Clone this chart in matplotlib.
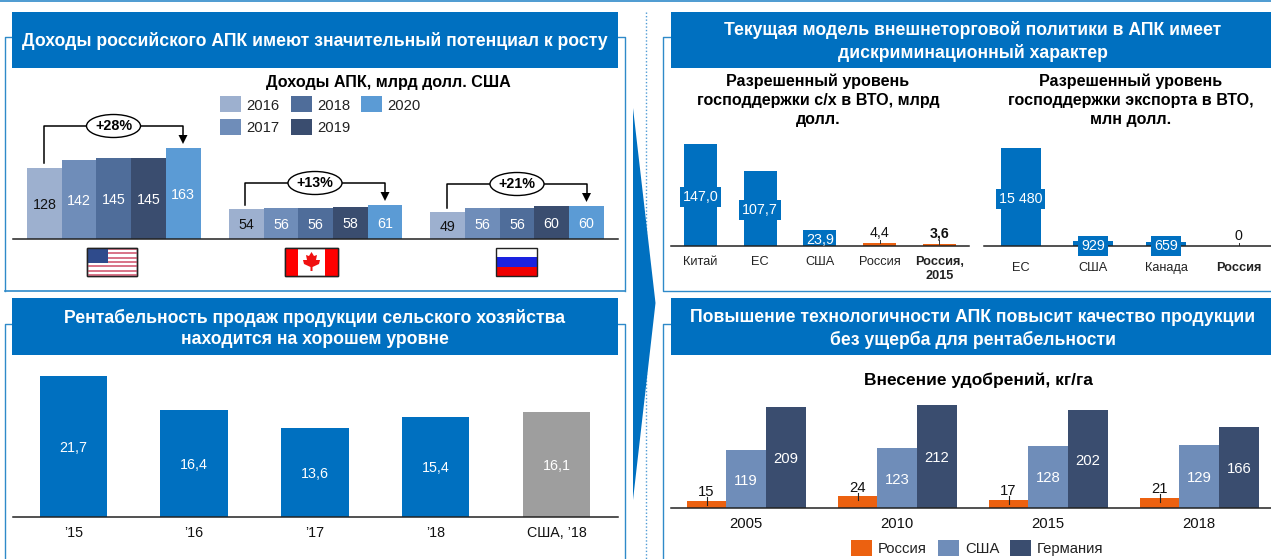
import numpy as np
import matplotlib
matplotlib.use("Agg")
import matplotlib.pyplot as plt
from matplotlib.patches import Rectangle, Polygon, Ellipse

plt.rcParams['font.family'] = ['Liberation Sans', 'DejaVu Sans']

W, H = 1271, 559

# данные: доходы АПК
income_years = ['2016', '2017', '2018', '2019', '2020']
income_usa = [128, 142, 145, 145, 163]
income_canada = [54, 56, 56, 58, 61]
income_russia = [49, 56, 56, 60, 60]
income_growth = ['+28%', '+13%', '+21%']

# данные: рентабельность
margin_labels = ['’15', '’16', '’17', '’18', 'США, ’18']
margin_values = [21.7, 16.4, 13.6, 15.4, 16.1]

# данные: господдержка с/х
farm_labels = ['Китай', 'ЕС', 'США', 'Россия', 'Россия,\n2015']
farm_values = [147.0, 107.7, 23.9, 4.4, 3.6]

# данные: господдержка экспорта
export_labels = ['ЕС', 'США', 'Канада', 'Россия']
export_values = [15480, 929, 659, 0]
export_text = ['15 480', '929', '659', '0']

# данные: удобрения
fert_years = ['2005', '2010', '2015', '2018']
fert_russia = [15, 24, 17, 21]
fert_usa = [119, 123, 128, 129]
fert_germany = [209, 212, 202, 166]

BLUE = '#0070C0'
FRAME = '#2F8AC9'
GREY = '#9E9E9E'
ORANGE = '#EC6110'
Y_COLORS = ['#9DB0CF', '#6F8DB9', '#4F6D9A', '#3A4D6F', '#5B9BD5']
VC = 'center_baseline'


def chart_axes(fig, x0, x1, base, top, xlim, ylim):
    """оси, заданные в пикселях картинки"""
    ax = fig.add_axes([x0 / W, 1 - base / H, (x1 - x0) / W, (base - top) / H])
    ax.set_xlim(*xlim)
    ax.set_ylim(*ylim)
    ax.patch.set_alpha(0)
    for s in ['top', 'left', 'right']:
        ax.spines[s].set_visible(False)
    ax.spines['bottom'].set_color('#222222')
    ax.spines['bottom'].set_linewidth(1.1)
    ax.set_yticks([])
    ax.set_xticks([])
    return ax


def bar_xlim(x0, x1, first_left, unit):
    return (x0 - first_left) / unit, (x1 - first_left) / unit


fig = plt.figure(figsize=(W / 100, H / 100), dpi=100, facecolor='white')

# подложка в пикселях: заголовки, рамки, флаги
bg = fig.add_axes([0, 0, 1, 1], zorder=0)
bg.set_xlim(0, W)
bg.set_ylim(H, 0)
bg.axis('off')

# оформление сверху
top = fig.add_axes([0, 0, 1, 1], zorder=5)
top.set_xlim(0, W)
top.set_ylim(H, 0)
top.axis('off')
top.patch.set_alpha(0)

# рамки
bg.plot([0, W], [0.5, 0.5], color=FRAME, lw=1.2)
bg.plot([5, 5, 625, 625], [290.5, 37, 37, 290.5], color=FRAME, lw=1)
bg.plot([5, 625], [290.5, 290.5], color=FRAME, lw=1.2)
bg.plot([5, 5, 625, 625], [559, 324, 324, 559], color=FRAME, lw=1)
bg.plot([W, 662.5, 662.5, W], [37, 37, 290.5, 290.5], color=FRAME, lw=1)
bg.plot([662.5, 662.5, W], [559, 324, 324], color=FRAME, lw=1)
bg.plot([646, 646], [12, 559], color='#4F9BD5', lw=1, ls=(0, (1, 1.5)))
bg.add_patch(Polygon([(633, 108), (655.5, 303), (633, 500)], closed=True, color=BLUE, lw=0, zorder=3))

# заголовки панелей
headers = [
    (12, 618, 12, 68, 0.5, 'Доходы российского АПК имеют значительный потенциал к росту'),
    (671, W, 12, 68, 1.5, 'Текущая модель внешнеторговой политики в АПК имеет\nдискриминационный характер'),
    (12, 618, 298, 355, 2, 'Рентабельность продаж продукции сельского хозяйства\nнаходится на хорошем уровне'),
    (671, W, 298, 355, 2.5, 'Повышение технологичности АПК повысит качество продукции\nбез ущерба для рентабельности'),
]
for x0, x1, y0, y1, dy, txt in headers:
    bg.add_patch(Rectangle((x0, y0), x1 - x0, y1 - y0, color=BLUE, lw=0, zorder=3))
    bg.text((x0 + x1) / 2 + (2 if x0 > 600 else 0), (y0 + y1) / 2 + dy, txt, color='white', fontsize=12.7, fontweight='bold',
            ha='center', va='center', linespacing=1.3, zorder=4)

# --- доходы АПК ---
unit = 34.7
ax = chart_axes(fig, 13, 618, 239, 100, bar_xlim(13, 618, 27, unit), (0, 139 / 0.557))
starts = [0, 5.82, 11.62]
for st, vals in zip(starts, [income_usa, income_canada, income_russia]):
    xs = st + 0.5 + np.arange(5)
    ax.bar(xs, vals, width=1.0, color=Y_COLORS, linewidth=0)
    for i, (x, v) in enumerate(zip(xs, vals)):
        ax.text(x, v / 2, str(v), ha='center', va=VC, fontsize=10.3,
                color='#111111' if i == 0 else 'white')

top.text(388, 82, 'Доходы АПК, млрд долл. США', fontsize=11.6, fontweight='bold', ha='center', va='center')
legend_pos = [(220, 96), (220, 119), (291, 96), (291, 119), (361, 96)]
for (lx, ly), name, c in zip(legend_pos, income_years, Y_COLORS):
    top.add_patch(Rectangle((lx, ly), 20.5, 16, color=c, lw=0))
    top.text(lx + 26, ly + 9.5, name, fontsize=10.7, va='center', color='#222222')

brackets = [(44, 163, 126, 183, 143, 113.5), (245, 205, 183, 385, 200, 315), (447, 208, 184, 586.5, 201, 517)]
for (xl, yl, yt, xr, ya, xo), g in zip(brackets, income_growth):
    top.plot([xl, xl, xr, xr], [yl, yt, yt, ya - 6], color='black', lw=1.1)
    top.add_patch(Polygon([(xr - 4.5, ya - 8), (xr + 4.5, ya - 8), (xr, ya + 1)], closed=True, color='black', lw=0))
    top.add_patch(Ellipse((xo, yt), 54, 23, fc='white', ec='black', lw=1, zorder=4))
    top.text(xo, yt, g, fontsize=10.3, fontweight='bold', ha='center', va='center', zorder=5)

# флаги
ux0, ux1, uy0, uy1 = 86.5, 137, 248, 276
bg.add_patch(Rectangle((ux0, uy0), ux1 - ux0, uy1 - uy0, fc='white', ec='#222222', lw=1))
for i in range(7):
    sy = uy0 + i * 2 * (uy1 - uy0) / 13
    bg.add_patch(Rectangle((ux0, sy), ux1 - ux0, (uy1 - uy0) / 13, color='#D9768A', lw=0))
bg.add_patch(Rectangle((ux0, uy0), 21, 15, color='#2F4B8C', lw=0))
bg.add_patch(Rectangle((ux0, uy0), ux1 - ux0, uy1 - uy0, fc='none', ec='#222222', lw=1))

cx0, cx1 = 285, 338
bg.add_patch(Rectangle((cx0, 248), cx1 - cx0, 28, fc='white', ec='#222222', lw=1))
bg.add_patch(Rectangle((cx0, 248), 13, 28, color='#FF0000', lw=0))
bg.add_patch(Rectangle((cx1 - 13, 248), 13, 28, color='#FF0000', lw=0))
leaf = [(311.5, 252), (314, 256), (317, 255), (316, 260), (320, 260), (319, 264), (312.5, 267), (312.5, 271),
        (310.5, 271), (310.5, 267), (304, 264), (303, 260), (307, 260), (306, 255), (309, 256)]
bg.add_patch(Polygon(leaf, closed=True, color='#F01010', lw=0))
bg.add_patch(Rectangle((cx0, 248), cx1 - cx0, 28, fc='none', ec='#222222', lw=1))

rx0, rx1 = 496, 537
for i, c in enumerate(['white', '#1A22E0', '#F00000']):
    bg.add_patch(Rectangle((rx0, 248 + i * 28 / 3), rx1 - rx0, 28 / 3, color=c, lw=0))
bg.add_patch(Rectangle((rx0, 248), rx1 - rx0, 28, fc='none', ec='#222222', lw=1))

# --- рентабельность ---
unit = 120.8
ax = chart_axes(fig, 13, 618, 517, 360, bar_xlim(13, 618, 73.3, unit), (0, 157 / 6.51))
xs = np.arange(5)
colors = [BLUE] * 4 + [GREY]
ax.bar(xs, margin_values, width=67.5 / unit, color=colors, linewidth=0)
for x, v in zip(xs, margin_values):
    ax.text(x, v / 2, f'{v:.1f}'.replace('.', ','), ha='center', va=VC, color='white', fontsize=10.3)
ax.set_xticks(xs, margin_labels, fontsize=10.3, color='#111111')
ax.tick_params(axis='x', length=0, pad=6.5)

# --- господдержка с/х ---
unit = 59.7
ax = chart_axes(fig, 671, 969, 246.5, 130, bar_xlim(671, 969, 700.5, unit), (0, 116.5 / 0.697))
xs = np.arange(5)
bar_colors = [BLUE, BLUE, BLUE, ORANGE, ORANGE]
ax.bar(xs, farm_values, width=33 / unit, color=bar_colors, linewidth=0)
for x, v, name in zip(xs, farm_values, farm_labels):
    s = f'{v:.1f}'.replace('.', ',')
    if v > 50:
        ax.text(x, v / 2, s, ha='center', va=VC, color='white', fontsize=10.3,
                bbox=dict(fc=BLUE, ec='none', pad=2.2))
    elif v > 10:
        ax.text(x, v / 2, s, ha='center', va=VC, color='white', fontsize=10.3)
    else:
        ax.text(x, 14.5 / 0.697, s, ha='center', va=VC, color='#111111', fontsize=10.3,
                fontweight='bold' if 'Россия,' in name else 'normal')
        ax.plot([x, x], [v, 6.5 / 0.697], color='#333333', lw=0.7)
ax.set_xticks(xs, farm_labels, fontsize=9.2, color='#222222', linespacing=1.25)
ax.tick_params(axis='x', length=0, pad=7)
ax.get_xticklabels()[4].set_fontweight('bold')
top.text(818, 100.5, 'Разрешенный уровень\nгосподдержки с/х в ВТО, млрд\nдолл.', fontsize=11.6, fontweight='bold',
         ha='center', va='center', linespacing=1.33)

# --- господдержка экспорта ---
unit = 72.7
ax = chart_axes(fig, 984, W, 246.5, 130, bar_xlim(984, W, 1020.6, unit), (0, 116.5 / 0.00635))
xs = np.arange(4)
ax.bar(xs, export_values, width=40 / unit, color=BLUE, linewidth=0)
for x, v, s in zip(xs, export_values, export_text):
    if v > 5000:
        ax.text(x, v / 2, s, ha='center', va=VC, color='white', fontsize=10.3,
                bbox=dict(fc=BLUE, ec='none', pad=2.2))
    elif v > 0:
        ax.text(x, 2 / 0.00635, s, ha='center', va=VC, color='white', fontsize=10.3,
                bbox=dict(fc=BLUE, ec='none', pad=2.2))
    else:
        ax.text(x, 11.5 / 0.00635, s, ha='center', va=VC, color='#111111', fontsize=10.3)
        ax.plot([x, x], [0, 3 / 0.00635], color='#333333', lw=0.7)
ax.set_xticks(xs, export_labels, fontsize=9.2, color='#222222')
ax.tick_params(axis='x', length=0, pad=11)
ax.get_xticklabels()[3].set_fontweight('bold')
top.text(1131, 100.5, 'Разрешенный уровень\nгосподдержки экспорта в ВТО,\nмлн долл.', fontsize=11.6, fontweight='bold',
         ha='center', va='center', linespacing=1.33)

# --- удобрения ---
unit = 151
ax = chart_axes(fig, 671, W, 508, 390, bar_xlim(671, W, 746.2, unit), (0, 118 / 0.485))
xs = np.arange(4)
w = 39.6 / unit
ax.bar(xs - w, fert_russia, width=w, color=ORANGE, linewidth=0)
ax.bar(xs, fert_usa, width=w, color=Y_COLORS[1], linewidth=0)
ax.bar(xs + w, fert_germany, width=w, color=Y_COLORS[3], linewidth=0)
for x, r, u, g in zip(xs, fert_russia, fert_usa, fert_germany):
    ax.text(x - w, r + 10 / 0.485, str(r), ha='center', va=VC, color='#111111', fontsize=10.7)
    ax.plot([x - w, x - w], [r - 8, r + 7], color='#222222', lw=0.8)
    ax.text(x, u / 2, str(u), ha='center', va=VC, color='white', fontsize=10.7)
    ax.text(x + w, g / 2, str(g), ha='center', va=VC, color='white', fontsize=10.7)
ax.set_xticks(xs, fert_years, fontsize=10.7, color='#111111')
ax.tick_params(axis='x', length=0, pad=6.5)

top.text(978, 380.5, 'Внесение удобрений, кг/га', fontsize=12.5, fontweight='bold', ha='center', va='center')
fert_legend = [(851, 'Россия', ORANGE), (938, 'США', Y_COLORS[1]), (1010, 'Германия', Y_COLORS[3])]
for lx, name, c in fert_legend:
    top.add_patch(Rectangle((lx, 540), 20.7, 16, color=c, lw=0))
    top.text(lx + 27, 549, name, fontsize=10.7, va='center', color='#222222')

fig.savefig('out.png', dpi=100)
